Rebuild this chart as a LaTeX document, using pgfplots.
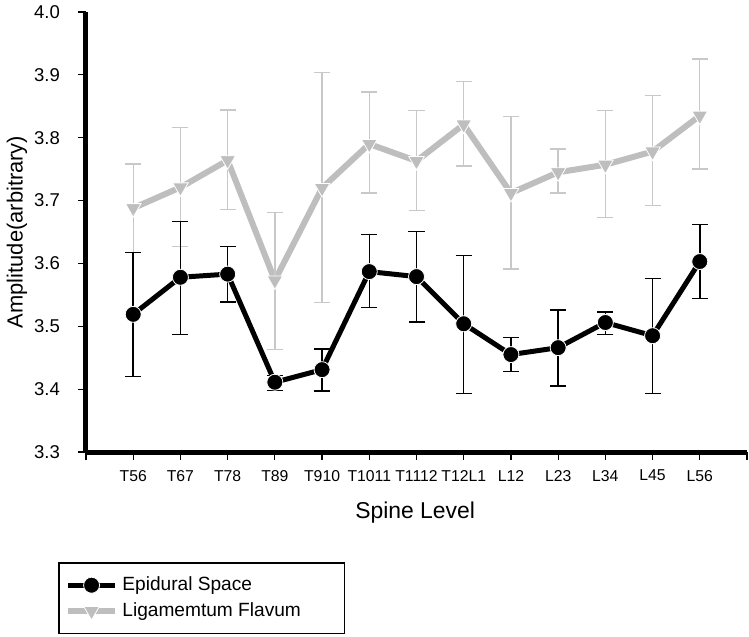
\documentclass[border=0pt]{standalone}
\usepackage{pgfplots}
\usepackage{pgfplotstable}
\pgfplotsset{compat=1.18}
\usepackage{fontspec}
\setmainfont{Liberation Sans}
\definecolor{lgray}{RGB}{190,190,190}
\definecolor{egray}{RGB}{200,200,200}

\pgfplotstableread{
x y ep em
1 3.519 0.098 0.099
2 3.578 0.089 0.091
3 3.583 0.044 0.044
4 3.411 0.011 0.013
5 3.431 0.033 0.034
6 3.587 0.059 0.057
7 3.579 0.072 0.072
8 3.504 0.109 0.111
9 3.455 0.027 0.027
10 3.466 0.060 0.061
11 3.506 0.017 0.019
12 3.485 0.091 0.092
13 3.603 0.059 0.059
}\epidural

\pgfplotstableread{
x y ep em
1 3.688 0.070 0.071
2 3.721 0.095 0.094
3 3.764 0.080 0.078
4 3.573 0.108 0.110
5 3.720 0.184 0.182
6 3.790 0.083 0.078
7 3.763 0.080 0.079
8 3.821 0.068 0.066
9 3.712 0.122 0.121
10 3.745 0.037 0.033
11 3.757 0.086 0.084
12 3.778 0.089 0.086
13 3.835 0.090 0.085
}\flavum

\begin{document}
\begin{tikzpicture}
\useasboundingbox (-43bp,-92.5bp) rectangle (331.5bp,226bp);
\begin{axis}[
  at={(0,0)}, anchor=south west,
  scale only axis,
  width=330.5bp, height=220bp,
  xmin=0, xmax=14, ymin=3.3, ymax=4.0,
  axis x line*=bottom, axis y line*=left,
  axis line style={line width=2.5bp, black},
  xtick={0,...,14},
  xticklabels={,T56,T67,T78,T89,T910,T1011,T1112,T12L1,L12,L23,L34,L45,L56,},
  ytick={3.3,3.4,...,4.01},
  tick align=outside,
  major tick length=4bp,
  tick style={black, line width=0.6bp},
  /pgf/number format/.cd, fixed, fixed zerofill, precision=1, assume math mode=true,
  /pgfplots/.cd,
  yticklabel style={font=\fontsize{9.3}{10}\selectfont, xshift=-5.5bp},
  xticklabel style={font=\fontsize{7.9}{9}\selectfont, yshift=-1.5bp},
  xlabel={Spine Level},
  ylabel={Amplitude(arbitrary)},
  xlabel style={font=\fontsize{11.5}{13}\selectfont, at={(axis description cs:0.498,-0.1386)}, anchor=center},
  ylabel style={font=\fontsize{11}{13}\selectfont, at={(axis description cs:-0.1044,0.5)}, anchor=center},
  reverse legend,
  legend cell align=left,
  legend style={at={(axis description cs:-0.0424,-0.25)}, anchor=north west,
    draw=black, line width=0.8bp, font=\fontsize{9.6}{11}\selectfont,
    inner xsep=3bp, inner ysep=5bp, row sep=0.5bp},
  legend image code/.code={\draw[mark repeat=2,mark phase=2] plot coordinates {(0cm,0cm)(0.42cm,0cm)(0.84cm,0cm)};},
]
\addplot[color=lgray, line width=3bp, mark=triangle*, mark size=4.5bp,
  mark options={rotate=180, fill=lgray, draw=white, line width=0.4bp},
  error bars/.cd, y dir=both, y explicit,
  error bar style={line width=0.7bp, color=egray},
  error mark options={rotate=90, line width=0.7bp, color=egray, mark size=4bp}]
  table[x=x, y=y, y error plus=ep, y error minus=em] {\flavum};
\addlegendentry{\makebox[106bp][l]{Ligamemtum Flavum}}
\addplot[color=black, line width=2.5bp, mark=*, mark size=4bp,
  mark options={fill=black, draw=white, line width=0.4bp},
  error bars/.cd, y dir=both, y explicit,
  error bar style={line width=0.75bp, color=black},
  error mark options={rotate=90, line width=0.75bp, color=black, mark size=4bp}]
  table[x=x, y=y, y error plus=ep, y error minus=em] {\epidural};
\addlegendentry{\makebox[106bp][l]{Epidural Space}}
\end{axis}
\end{tikzpicture}
\end{document}
